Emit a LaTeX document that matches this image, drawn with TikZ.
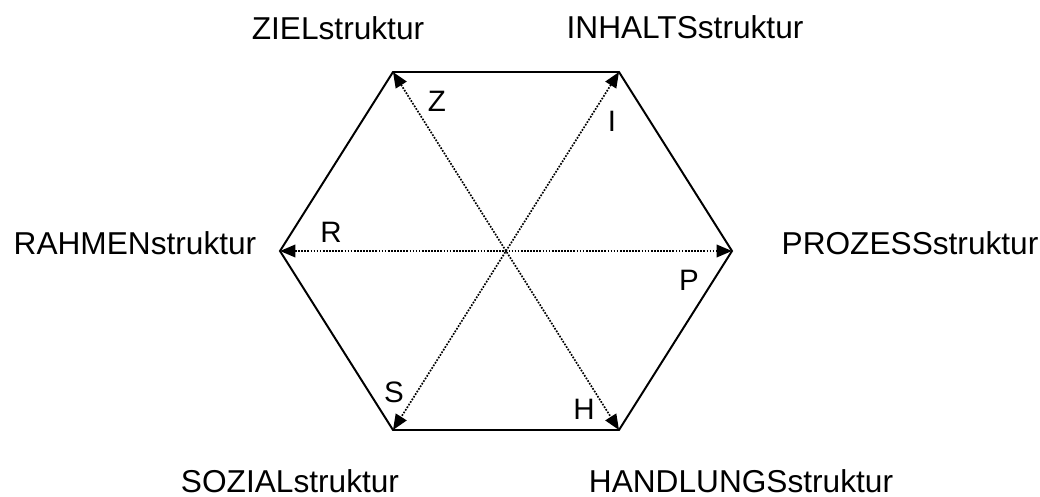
\documentclass[tikz,border=0pt]{standalone}
\usepackage{fontspec}
\setmainfont{Liberation Sans}
\usetikzlibrary{arrows.meta}
\begin{document}
\begin{tikzpicture}[x=0.025cm,y=-0.025cm,
    kante/.style={line width=1.4pt},
    achse/.style={line width=1.2pt,densely dotted,
      {Triangle[length=11pt,width=9pt]}-{Triangle[length=11pt,width=9pt]}},
    struktur/.style={font=\fontsize{22.5}{27}\selectfont,inner sep=0pt},
    buchstabe/.style={font=\fontsize{21}{25}\selectfont,inner sep=0pt}]
	\useasboundingbox (0,0) rectangle (1040,497);

	% Define vertices
	\coordinate (M) at (506,251);
	\coordinate (Z) at (393,72);
	\coordinate (I) at (619,72);
	\coordinate (P) at (732,251);
	\coordinate (H) at (619,430);
	\coordinate (S) at (393,430);
	\coordinate (R) at (280,251);

	% Draw the hexagon
	\draw[kante] (Z) -- (I) -- (P) -- (H) -- (S) -- (R) -- cycle;

	% Draw the axes
	\draw[achse] (Z) -- (H);
	\draw[achse] (I) -- (S);
	\draw[achse] (R) -- (P);

	% Letters
	\node[buchstabe] (zbuchst) at (437,101) {Z};
	\node[buchstabe] (ibuchst) at (612,121) {I};
	\node[buchstabe] (rbuchst) at (331,232) {R};
	\node[buchstabe] (pbuchst) at (689,280) {P};
	\node[buchstabe] (sbuchst) at (394,392) {S};
	\node[buchstabe] (hbuchst) at (584,409) {H};

	% Labels
	\node[struktur] (ziel) at (338,28) {ZIELstruktur};
	\node[struktur] (inhalt) at (685,27) {INHALTSstruktur};
	\node[struktur] (rahmen) at (135,243) {RAHMENstruktur};
	\node[struktur] (prozess) at (910,243) {PROZESSstruktur};
	\node[struktur] (sozial) at (290,481) {SOZIALstruktur};
	\node[struktur] (handlung) at (741,481) {HANDLUNGSstruktur};
\end{tikzpicture}
\end{document}
